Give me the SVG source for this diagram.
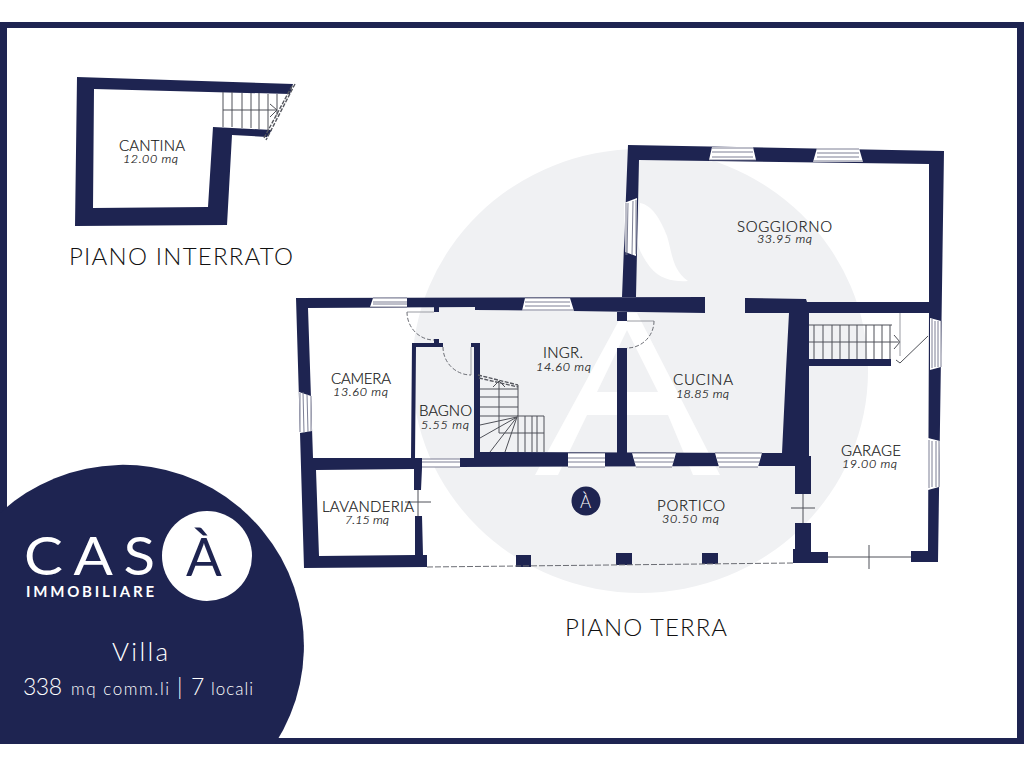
<svg xmlns="http://www.w3.org/2000/svg" width="1024" height="768" viewBox="0 0 1024 768">
<style>
text{font-family:"Lato","Liberation Sans",sans-serif;font-weight:300;fill:#1c1d22}
.n{font-size:15px;fill:#111;stroke:#222;stroke-width:.2}
.a{font-size:12.5px;font-style:italic;fill:#111;stroke:#222;stroke-width:.2}
.t{font-size:24px;fill:#111}
.w{fill:#1e2451}
.l{fill:none;stroke:#4f5158;stroke-width:1}
.g{fill:none;stroke:#9a9ca3;stroke-width:1}
.d{fill:none;stroke:#6b6d74;stroke-width:1;stroke-dasharray:4 2}
.sd{fill:none;stroke:#55575e;stroke-width:1.4;stroke-dasharray:4 1.5}
.win{fill:#fff;stroke:none}
.wl{fill:none;stroke:#6d7088;stroke-width:.9}
.lg{fill:#fff}
</style>
<rect width="1024" height="768" fill="#fff"/>
<path id="frame" class="w" fill-rule="evenodd" d="M0 22H1024V744H0ZM7 28V738H1017V28Z"/>
<g id="watermark">
<ellipse cx="640" cy="371" rx="228" ry="222" fill="#f0f1f3"/>
<path fill="#fff" fill-rule="evenodd" d="M623 313H637L720 475H693L668 415H587L558 475H535ZM627 330L597 392H658Z"/>
<path fill="#fff" d="M640 203C652 205 661 220 667 236C672 252 672 270 688 281C676 282 660 280 650 267C642 256 638 248 637 240Z"/>
</g>
<g id="piano-interrato">
<polygon class="w" points="77,77 293,84 290,94 94,89 93,208 208,207 213,127 272,130 267,137 232,135 227,225 75,226"/>
<path class="l" d="M223 92V127M232 92V127M242 93V128M251 93V128M259 93V129M268 94V130M277 94V115M223 110H277M270 104L277 110L270 117"/>
<path class="sd" d="M295 84L266 140M292 86L264 138"/>
</g>
<g id="piano-terra-walls">
<polygon class="w" points="628,145 944,151 938,562 911,562 911,551 928,551 929,313 929,164 639,160 636,297 622,297"/>
<polygon class="w" points="296,298 705,297 705,313 573,311 475,310 475,307 308,308 313,458 422,458 422,468 421,490 414,490 414,469 316,470 319,556 415,555 415,516 422,516 423,555 427,555 427,567 304,568"/>
<polygon class="w" points="471,343 480,343 480,452 782,453 786,370 789,313 745,313 745,298 806,299 807,302 930,302 930,313 809,313 809,456 811,456 811,494 795,494 795,466 460,467 460,458 474,458 474,347 471,347"/>
<polygon class="w" points="412,343 443,343 443,347 416,347 415,458 411,458"/>
<rect class="w" x="434" y="339" width="5" height="5"/>
<rect class="w" x="434" y="306" width="5" height="6"/>
<rect class="w" x="617" y="312" width="10" height="9"/>
<rect class="w" x="617" y="348" width="10" height="106"/>
<polygon class="w" points="795,523 811,523 811,552 828,552 828,563 793,563 793,549 795,549"/>
<rect class="w" x="809" y="359" width="82" height="7"/>
<rect class="w" x="516" y="555" width="15" height="12"/>
<rect class="w" x="616" y="553" width="16" height="12"/>
<rect class="w" x="702" y="553" width="16" height="11"/>
</g>
<g id="windows">
<path class="win" d="M712 147H753L756 160H709ZM817 148H859L863 162H813ZM373 298H407V307H370ZM525 298H570L574 311H522ZM422 459H460V467H422ZM568 453H605V467H568ZM632 453H676L672 467H636ZM715 453H762L758 467H719ZM624 203L637 198L636 256L625 252ZM299 392L311 396L312 431L300 433ZM930 318L941 321V367L930 370ZM928 438L940 441L939 487L928 490Z"/>
<path class="wl" d="M712 148H753M712 152H753M712 157H753M709 160H756M817 149H859M817 153H859M817 157H859M813 161H863M373 298H407M373 302H407M373 304H407M370 307H407M525 298H570M525 302H570M525 306H570M522 310H574M422 459H460M422 462H460M422 467H460M568 453H605M568 458H605M568 462H605M568 467H605M632 453H676M634 458H674M634 462H674M636 467H672M715 453H762M717 458H760M717 462H760M719 467H758M626 203V255M628 203L627 255M633 201L632 255M636 200V254M300 393V432M303 392L304 433M307 394L308 432M311 396V431M932 319V368M935 321V367M938 321V367M941 321V367M929 440V488M932 441V487M936 441V487M939 441V487"/>
</g>
<g id="stairs">
<path class="l" d="M814 325V359M823 325V359M832 325V359M840 325V359M849 325V359M857 325V359M866 325V359M874 325V359M882 325V359M890 325V359M809 325H892M809 342H900M894 335L900 342L894 349"/>
<path class="l" d="M480 389H518M480 397H518M480 407H518M480 416H518M518 385V452M517 416H544V452M525 416V452M532 416V452M537 416V452M499 381V433H544M493 387L499 381L505 387M517 417L480 425M517 417L480 438M517 417L490 452M517 417L505 452"/>
<path class="sd" d="M478 375L518 385M479 378L518 387"/>
</g>
<g id="doors">
<path class="g" d="M407 312H434M471 347V375M627 321H654M900 313V356"/>
<path class="d" d="M407 312A27 28 0 0 0 434 340M443 347A28 28 0 0 0 471 375M654 321A27 27 0 0 1 627 348"/>
<path class="l" d="M418 490V516M405 502H431M803 494V523M791 508H815M828 557H911M869 545V569M896 360L900 363L928 336"/>
<path class="d" style="stroke-dasharray:6 2" d="M427 567L793 563"/>
</g>
<g id="labels">
<text class="n" x="119" y="151" textLength="66">CANTINA</text>
<text class="a" x="123" y="163" textLength="55">12.00 mq</text>
<text class="n" x="737" y="232" textLength="95">SOGGIORNO</text>
<text class="a" x="757" y="243" textLength="55">33.95 mq</text>
<text class="n" x="331" y="384" textLength="60">CAMERA</text>
<text class="a" x="333" y="396" textLength="55">13.60 mq</text>
<text class="n" x="419" y="416" textLength="53">BAGNO</text>
<text class="a" x="421" y="429" textLength="48">5.55 mq</text>
<text class="n" x="543" y="358" textLength="40">INGR.</text>
<text class="a" x="536" y="371" textLength="55">14.60 mq</text>
<text class="n" x="322" y="512" textLength="92">LAVANDERIA</text>
<text class="a" x="345" y="524" textLength="44">7.15 mq</text>
<text class="n" x="673" y="385" textLength="60">CUCINA</text>
<text class="a" x="676" y="398" textLength="53">18.85 mq</text>
<text class="n" x="657" y="511" textLength="68">PORTICO</text>
<text class="a" x="662" y="523" textLength="57">30.50 mq</text>
<text class="n" x="841" y="456" textLength="60">GARAGE</text>
<text class="a" x="842" y="468" textLength="55">19.00 mq</text>
<text class="t" x="69" y="265" textLength="224">PIANO INTERRATO</text>
<text class="t" x="565" y="636" textLength="162">PIANO TERRA</text>
</g>
<g id="portico-logo">
<circle class="w" cx="586" cy="501" r="14.5"/>
<text x="580" y="508" style="fill:#fff;font-size:17px">À</text>
</g>
<g id="logo">
<path class="w" d="M0 513A181 181 0 0 1 275 744H0Z"/>
<circle class="lg" cx="207" cy="556" r="45"/>
<text transform="translate(24 575) scale(1.12 1)" x="0" y="0" textLength="117" style="fill:#fff;font-size:52px;font-weight:400">CAS</text>
<text x="186" y="576" style="fill:#1e2451;font-size:53px;font-weight:400">À</text>
<text x="26" y="597" textLength="128" style="fill:#fff;font-size:15px;font-weight:700">IMMOBILIARE</text>
<text x="112" y="661" textLength="56" style="fill:#fff;font-size:26px">Villa</text>
<text x="23" y="695" style="fill:#fff;font-size:23px" textLength="39">338</text>
<text x="71" y="695" style="fill:#fff;font-size:17px" textLength="98">mq comm.li</text>
<text x="177" y="695" style="fill:#fff;font-size:23px">|</text>
<text x="191" y="695" style="fill:#fff;font-size:23px">7</text>
<text x="211" y="695" style="fill:#fff;font-size:17px" textLength="42">locali</text>
</g>
</svg>
